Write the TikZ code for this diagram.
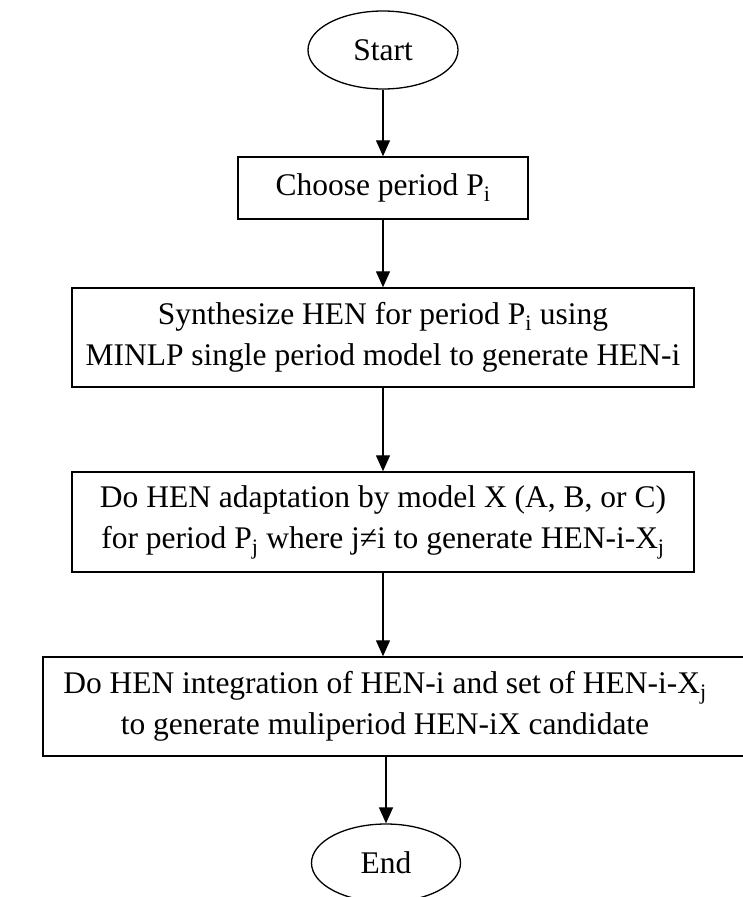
\documentclass[tikz,border=0pt]{standalone}
\usepackage{fontspec}
\setmainfont{Liberation Serif}
\usetikzlibrary{shapes.geometric,arrows.meta}
\begin{document}
\begin{tikzpicture}[x=1pt,y=1pt,
  txt/.style={font=\fontsize{31.5}{41}\selectfont, align=center},
  term/.style={txt, draw, ellipse, line width=1.3pt, minimum width=150pt, minimum height=78pt, inner sep=0pt},
  proc/.style={txt, draw, rectangle, line width=1.5pt, inner sep=0pt},
  flow/.style={line width=1.4pt, -{Triangle[width=14pt,length=16pt]}}]
\useasboundingbox (0,0) rectangle (742,-897);
\node[term] (start) at (383,-50) {Start};
\node[proc, minimum width=290pt, minimum height=62pt] (b1) at (383,-188) {Choose period P\textsubscript{i}};
\node[proc, minimum width=622pt, minimum height=99pt] (b2) at (383,-337.5) {Synthesize HEN for period P\textsubscript{i} using\\MINLP single period model to generate HEN-i};
\node[proc, minimum width=622pt, minimum height=100pt] (b3) at (383,-522) {Do HEN adaptation by model X (A, B, or C)\\for period P\textsubscript{j} where j≠i to generate HEN-i-X\textsubscript{j}};
\node[proc, minimum width=730pt, minimum height=99pt, anchor=west] (b4) at (42,-706.5) {};
\node[txt] (t4) at (385,-706.5) {Do HEN integration of HEN-i and set of HEN-i-X\textsubscript{j}\\to generate muliperiod HEN-iX candidate};
\node[term, minimum width=149pt] (end) at (386,-863) {End};
\draw[flow] (start.south) -- (start.south |- b1.north);
\draw[flow] (b1.south) -- (b1.south |- b2.north);
\draw[flow] (b2.south) -- (b2.south |- b3.north);
\draw[flow] (b3.south) -- (b3.south |- b4.north);
\draw[flow] (end.north |- b4.south) -- (end.north);
\end{tikzpicture}
\end{document}
